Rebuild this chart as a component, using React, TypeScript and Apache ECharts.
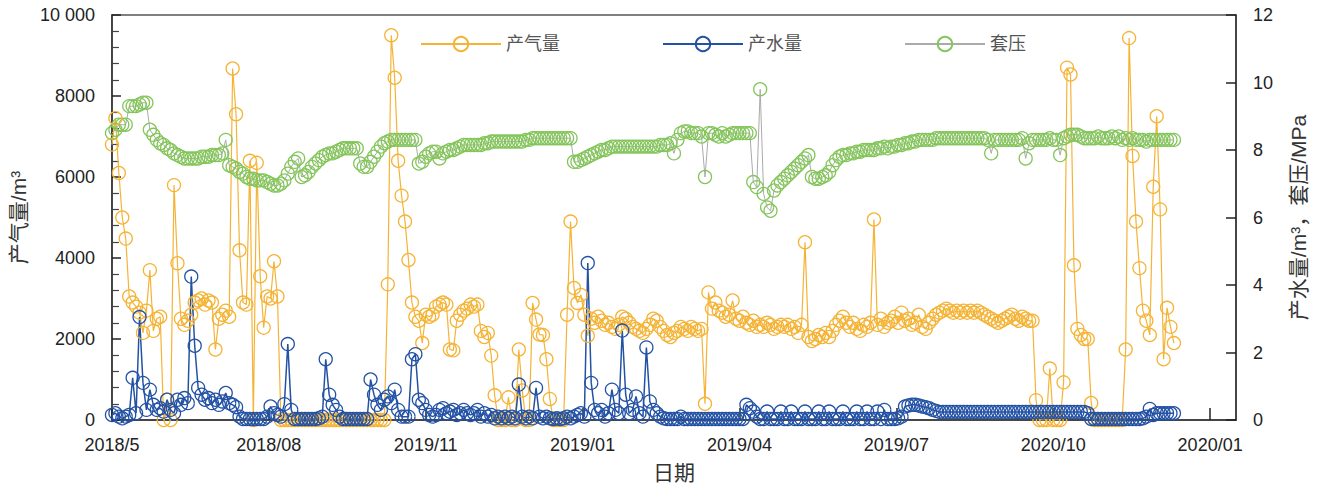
import { useEffect, useRef } from "react";
import * as echarts from "echarts";

// Tick labels along the date axis (one every TICK_DAYS days)
const dateLabels = ["2018/5", "2018/08", "2019/11", "2019/01", "2019/04", "2019/07", "2020/10", "2020/01"];
const gasTickLabels = ["0", "2000", "4000", "6000", "8000", "10 000"];
const rightTickLabels = ["0", "2", "4", "6", "8", "10", "12"];

// Readings are taken every DAY_STEP days from the first date
const DAY_STEP = 2;
const TICK_DAYS = 91;
const AXIS_DAYS = 652;

// 产气量, m³/d
const gasRate = [
  6800, 7450, 6100, 5000, 4480, 3050, 2900, 2800, 2650, 2150,
  2700, 3700, 2200, 2500, 2550, 0, 500, 0, 5800, 3870,
  2500, 2350, 2450, 2600, 2900, 2950, 3000, 2850, 2950, 2900,
  1740, 2500, 2600, 2700, 2550, 8680, 7550, 4190, 2900, 2850,
  6400, 0, 6350, 3550, 2280, 3050, 3000, 3920, 3050, 0,
  0, 0, 0, 0, 0, 0, 0, 0, 0, 0,
  0, 0, 0, 0, 0, 0, 0, 0, 0, 0,
  0, 0, 0, 0, 0, 0, 0, 0, 0, 0,
  3350, 9500, 8450, 6400, 5540, 4900, 3950, 2900, 2550, 2450,
  1900, 2600, 2550, 2600, 2800, 2850, 2900, 2850, 1740, 1720,
  2450, 2600, 2700, 2750, 2850, 2800, 2850, 2200, 2050, 2150,
  1590, 610, 0, 0, 0, 560, 0, 0, 1740, 730,
  0, 0, 2890, 2480, 2110, 2100, 1500, 520, 0, 0,
  0, 0, 2600, 4900, 3260, 2890, 3090, 2600, 2080, 2500,
  2400, 2550, 2450, 2350, 2400, 2300, 2250, 2350, 2550, 2500,
  2400, 2300, 2250, 2200, 2150, 2250, 2350, 2500, 2450, 2300,
  2200, 2100, 2050, 2150, 2200, 2300, 2250, 2200, 2300, 2250,
  2200, 2250, 400, 3150, 2750, 2900, 2700, 2650, 2550, 2600,
  2950, 2500, 2450, 2550, 2400, 2350, 2450, 2300, 2350, 2300,
  2400, 2350, 2250, 2300, 2350, 2300, 2350, 2250, 2300, 2150,
  2350, 4390, 2050, 1950, 2000, 2100, 2050, 2150, 2050, 2200,
  2350, 2450, 2550, 2400, 2300, 2400, 2250, 2200, 2350, 2300,
  2400, 4950, 2350, 2500, 2300, 2400, 2450, 2550, 2400, 2650,
  2450, 2500, 2350, 2400, 2600, 2300, 2250, 2400, 2500, 2600,
  2650, 2700, 2750, 2700, 2650, 2700, 2650, 2700, 2650, 2700,
  2650, 2700, 2650, 2600, 2550, 2500, 2450, 2400, 2450, 2500,
  2550, 2600, 2500, 2450, 2550, 2500, 2450, 2450, 490, 0,
  0, 0, 1270, 0, 0, 0, 930, 8700, 8530, 3820,
  2250, 2100, 2000, 2000, 420, 0, 0, 0, 0, 0,
  0, 0, 0, 0, 1740, 9430, 6520, 4900, 3750, 2700,
  2450, 2100, 5760, 7500, 5200, 1500, 2770, 2300, 1900,
];

// 产水量, m³/d
const waterRate = [
  0.15, 0.2, 0.1, 0.05, 0.1, 0.15, 1.25, 0.2, 3.05, 1.1,
  0.3, 0.9, 0.45, 0.3, 0.35, 0.25, 0.6, 0.3, 0.2, 0.6,
  0.45, 0.65, 0.5, 4.25, 2.2, 0.95, 0.75, 0.6, 0.65, 0.5,
  0.6, 0.45, 0.55, 0.8, 0.5, 0.45, 0.38, 0.1, 0.03, 0.03,
  0.03, 0.03, 0.03, 0.03, 0.03, 0.1, 0.4, 0.2, 0.15, 0.1,
  0.47, 2.25, 0.3, 0.03, 0.03, 0.03, 0.03, 0.03, 0.03, 0.03,
  0.05, 0.1, 1.8, 0.75, 0.45, 0.3, 0.1, 0.03, 0.03, 0.03,
  0.03, 0.03, 0.03, 0.03, 0.03, 1.2, 0.75, 0.45, 0.3, 0.6,
  0.7, 0.5, 0.9, 0.3, 0.1, 0.1, 0.1, 1.8, 1.95, 0.6,
  0.5, 0.3, 0.15, 0.1, 0.15, 0.3, 0.35, 0.2, 0.25, 0.3,
  0.15, 0.2, 0.3, 0.2, 0.15, 0.2, 0.3, 0.1, 0.2, 0.1,
  0.15, 0.05, 0.1, 0.05, 0.1, 0.05, 0.1, 0.05, 1.05, 0.1,
  0.05, 0.1, 0.05, 0.95, 0.1, 0.05, 0.1, 0.05, 0.03, 0.05,
  0.03, 0.05, 0.1, 0.05, 0.1, 0.15, 0.2, 0.1, 4.65, 1.1,
  0.3, 0.2, 0.3, 0.1, 0.2, 0.9, 0.3, 0.2, 2.65, 0.75,
  0.2, 0.3, 0.7, 0.2, 0.1, 2.15, 0.55, 0.3, 0.2, 0.1,
  0.05, 0.03, 0.03, 0.03, 0.03, 0.1, 0.03, 0.03, 0.03, 0.03,
  0.03, 0.03, 0.03, 0.03, 0.03, 0.03, 0.03, 0.03, 0.03, 0.03,
  0.03, 0.03, 0.03, 0.03, 0.45, 0.35, 0.25, 0.1, 0.03, 0.03,
  0.25, 0.03, 0.03, 0.03, 0.25, 0.03, 0.03, 0.25, 0.03, 0.03,
  0.03, 0.25, 0.03, 0.03, 0.03, 0.25, 0.03, 0.03, 0.25, 0.03,
  0.03, 0.03, 0.25, 0.03, 0.03, 0.03, 0.25, 0.03, 0.03, 0.25,
  0.03, 0.03, 0.25, 0.03, 0.3, 0.03, 0.03, 0.03, 0.05, 0.1,
  0.4, 0.43, 0.45, 0.45, 0.43, 0.4, 0.38, 0.35, 0.3, 0.27,
  0.24, 0.24, 0.24, 0.24, 0.24, 0.24, 0.24, 0.24, 0.24, 0.24,
  0.24, 0.24, 0.24, 0.24, 0.24, 0.24, 0.24, 0.24, 0.24, 0.24,
  0.24, 0.24, 0.24, 0.24, 0.24, 0.24, 0.24, 0.24, 0.24, 0.24,
  0.24, 0.24, 0.24, 0.24, 0.24, 0.24, 0.24, 0.24, 0.24, 0.24,
  0.24, 0.24, 0.24, 0.2, 0.03, 0.03, 0.03, 0.03, 0.03, 0.03,
  0.03, 0.03, 0.03, 0.03, 0.03, 0.03, 0.03, 0.03, 0.03, 0.05,
  0.1, 0.33, 0.15, 0.2, 0.2, 0.2, 0.2, 0.2, 0.2,
];

// 套压, MPa
const casingPressure = [
  8.5, 8.6, 8.75, 8.75, 8.75, 9.3, 9.3, 9.3, 9.35, 9.4,
  9.4, 8.6, 8.45, 8.3, 8.2, 8.15, 8.05, 8.0, 7.9, 7.85,
  7.8, 7.75, 7.75, 7.75, 7.75, 7.75, 7.8, 7.8, 7.8, 7.85,
  7.85, 7.85, 7.9, 8.3, 7.55, 7.5, 7.45, 7.35, 7.3, 7.2,
  7.15, 7.15, 7.1, 7.1, 7.1, 7.05, 7.0, 6.95, 6.95, 7.0,
  7.1, 7.3, 7.5, 7.65, 7.75, 7.2, 7.25, 7.35, 7.5, 7.6,
  7.7, 7.8, 7.85, 7.9, 7.9, 7.95, 8.0, 8.05, 8.05, 8.05,
  8.05, 8.05, 7.6, 7.5, 7.5, 7.65, 7.8, 7.95, 8.1, 8.2,
  8.25, 8.3, 8.3, 8.3, 8.3, 8.3, 8.3, 8.3, 8.3, 7.6,
  7.65, 7.8, 7.9, 7.95, 7.95, 7.75, 7.9, 7.95, 8.0, 8.0,
  8.05, 8.1, 8.15, 8.15, 8.15, 8.15, 8.15, 8.15, 8.2, 8.2,
  8.25, 8.25, 8.25, 8.25, 8.25, 8.25, 8.25, 8.25, 8.25, 8.25,
  8.3, 8.3, 8.35, 8.35, 8.35, 8.35, 8.35, 8.35, 8.35, 8.35,
  8.35, 8.35, 8.35, 8.35, 7.65, 7.65, 7.7, 7.75, 7.8, 7.85,
  7.9, 7.95, 8.0, 8.0, 8.05, 8.1, 8.1, 8.1, 8.1, 8.1,
  8.1, 8.1, 8.1, 8.1, 8.1, 8.1, 8.1, 8.1, 8.1, 8.15,
  8.15, 8.15, 8.2, 7.9, 8.3, 8.5, 8.55, 8.55, 8.5, 8.5,
  8.5, 8.4, 7.2, 8.5, 8.5, 8.45, 8.4, 8.5, 8.4, 8.45,
  8.5, 8.5, 8.5, 8.5, 8.5, 8.5, 7.05, 6.9, 9.8, 6.7,
  6.3, 6.2, 6.8, 6.95, 7.05, 7.15, 7.25, 7.35, 7.45, 7.55,
  7.65, 7.75, 7.85, 7.2, 7.15, 7.15, 7.2, 7.25, 7.35, 7.55,
  7.7, 7.8, 7.85, 7.85, 7.9, 7.9, 7.95, 7.95, 8.0, 8.0,
  8.0, 8.0, 8.05, 8.05, 8.1, 8.05, 8.1, 8.1, 8.15, 8.15,
  8.2, 8.2, 8.25, 8.25, 8.3, 8.3, 8.3, 8.3, 8.3, 8.35,
  8.35, 8.35, 8.35, 8.35, 8.35, 8.35, 8.35, 8.35, 8.35, 8.35,
  8.35, 8.35, 8.35, 8.35, 8.3, 7.9, 8.3, 8.3, 8.3, 8.3,
  8.3, 8.3, 8.3, 8.3, 8.35, 7.75, 8.2, 8.3, 8.3, 8.3,
  8.3, 8.3, 8.35, 8.3, 8.3, 7.85, 8.35, 8.4, 8.45, 8.45,
  8.45, 8.4, 8.35, 8.35, 8.35, 8.35, 8.4, 8.35, 8.35, 8.35,
  8.4, 8.35, 8.4, 8.3, 8.35, 8.3, 8.35, 8.3, 8.3, 8.3,
  8.25, 8.3, 8.3, 8.3, 8.3, 8.3, 8.3, 8.3, 8.3,
];

const FONT = '"Liberation Sans", Arial, "Noto Sans CJK SC", sans-serif';
const GAS_COLOR = "#F5B335";
const WATER_COLOR = "#2352A5";
const PRESSURE_COLOR = "#84C55B";
const PRESSURE_LINE = "#AAAAAA";

const toPoints = (values: number[]) => values.map((v, i) => [i * DAY_STEP, v]);

// Line series drawn with hollow (see-through) ring markers
function ringSeries(name: string, values: number[], axis: number, ring: string, line: string, lineWidth: number) {
  return {
    name,
    type: "line",
    yAxisIndex: axis,
    data: toPoints(values),
    symbol: "circle",
    symbolSize: 13,
    showAllSymbol: true,
    itemStyle: { color: "rgba(0,0,0,0)", borderColor: ring, borderWidth: 1.3 },
    lineStyle: { color: line, width: lineWidth },
    emphasis: { disabled: true },
    silent: true,
  };
}

export default function App() {
  const ref = useRef<HTMLDivElement>(null);

  useEffect(() => {
    if (!ref.current) return;
    const chart = echarts.init(ref.current, null, { renderer: "svg" });
    chart.setOption({
      animation: false,
      backgroundColor: "#ffffff",
      textStyle: { fontFamily: FONT },
      grid: {
        left: 105,
        right: 89,
        top: 15,
        bottom: 65,
        show: true,
        borderColor: "#555",
        borderWidth: 1.5,
      },
      legend: {
        data: ["产气量", "产水量", "套压"],
        left: 420,
        top: 35,
        padding: 0,
        itemWidth: 80,
        itemHeight: 18,
        itemGap: 102,
        selectedMode: false,
        textStyle: { fontSize: 18, color: "#555", fontFamily: FONT },
      },
      xAxis: {
        type: "value",
        min: 0,
        max: AXIS_DAYS,
        interval: TICK_DAYS,
        name: "日期",
        nameLocation: "middle",
        nameGap: 42,
        nameTextStyle: { fontSize: 21, color: "#333", fontFamily: FONT },
        axisLine: { onZero: false, lineStyle: { color: "#333", width: 1.5 } },
        axisTick: { inside: true, length: 12, lineStyle: { color: "#222", width: 1.5 } },
        axisLabel: {
          fontSize: 18,
          color: "#222",
          margin: 16,
          showMaxLabel: false,
          formatter: (v: number) => (v % TICK_DAYS === 0 ? dateLabels[v / TICK_DAYS] ?? "" : ""),
        },
        splitLine: { show: false },
      },
      yAxis: [
        {
          type: "value",
          position: "left",
          min: 0,
          max: 10000,
          interval: 2000,
          name: "产气量/m³",
          nameLocation: "middle",
          nameRotate: 90,
          nameGap: 72,
          nameTextStyle: { fontSize: 21, color: "#333", fontFamily: FONT },
          axisLine: { show: true, lineStyle: { color: "#333", width: 1.5 } },
          axisTick: { inside: true, length: 9, lineStyle: { color: "#222", width: 1.5 } },
          minorTick: { show: true, splitNumber: 5, length: 7, lineStyle: { color: "#444", width: 1.2 } },
          axisLabel: {
            fontSize: 18,
            color: "#222",
            margin: 17,
            formatter: (v: number) => gasTickLabels[Math.round(v / 2000)] ?? "",
          },
          splitLine: { show: false },
        },
        {
          type: "value",
          position: "right",
          min: 0,
          max: 12,
          interval: 2,
          name: "产水量/m³，套压/MPa",
          nameLocation: "middle",
          nameRotate: 90,
          nameGap: 52,
          nameTextStyle: { fontSize: 21, color: "#333", fontFamily: FONT },
          axisLine: { show: true, lineStyle: { color: "#333", width: 1.5 } },
          axisTick: { inside: true, length: 10, lineStyle: { color: "#222", width: 1.5 } },
          axisLabel: {
            fontSize: 18,
            color: "#222",
            margin: 17,
            formatter: (v: number) => rightTickLabels[Math.round(v / 2)] ?? "",
          },
          splitLine: { show: false },
        },
      ],
      series: [
        ringSeries("套压", casingPressure, 1, PRESSURE_COLOR, PRESSURE_LINE, 1),
        ringSeries("产气量", gasRate, 0, GAS_COLOR, GAS_COLOR, 1.2),
        ringSeries("产水量", waterRate, 1, WATER_COLOR, WATER_COLOR, 1.5),
      ],
    });
    return () => chart.dispose();
  }, []);

  return (
    <div
      ref={ref}
      style={{ position: "fixed", left: 0, top: 0, width: 1325, height: 488, background: "#fff" }}
    />
  );
}
